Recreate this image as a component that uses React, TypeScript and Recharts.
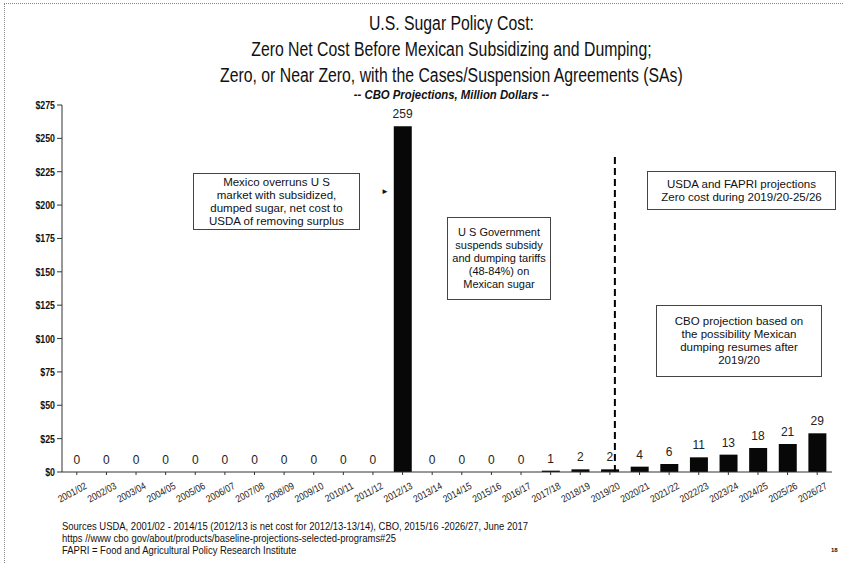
import { Bar, ComposedChart, Line, ReferenceLine, XAxis, YAxis } from "recharts";

const FONT = '"Liberation Sans", Arial, sans-serif';

const years = [
  "2001/02", "2002/03", "2003/04", "2004/05", "2005/06", "2006/07", "2007/08", "2008/09", "2009/10",
  "2010/11", "2011/12", "2012/13", "2013/14", "2014/15", "2015/16", "2016/17", "2017/18", "2018/19",
  "2019/20", "2020/21", "2021/22", "2022/23", "2023/24", "2024/25", "2025/26", "2026/27"
];
const cost = [0, 0, 0, 0, 0, 0, 0, 0, 0, 0, 0, 259, 0, 0, 0, 0, 1, 2, 2, 4, 6, 11, 13, 18, 21, 29];
const yTicks = [0, 25, 50, 75, 100, 125, 150, 175, 200, 225, 250, 275];

const titleLines = [
  "U.S. Sugar Policy Cost:",
  "Zero Net Cost Before Mexican Subsidizing and Dumping;",
  "Zero, or Near Zero, with the Cases/Suspension Agreements (SAs)"
];
const subtitle = "-- CBO Projections, Million Dollars --";
const footer = [
  "Sources  USDA, 2001/02 - 2014/15 (2012/13 is net cost for 2012/13-13/14), CBO, 2015/16 -2026/27, June 2017",
  "https //www cbo gov/about/products/baseline-projections-selected-programs#25",
  "FAPRI = Food and Agricultural Policy Research Institute"
];

const notes = [
  { lines: ["Mexico overruns U S", "market with subsidized,", "dumped sugar, net cost to", "USDA of removing surplus"], left: 193, top: 173, width: 167, height: 57, size: 11.5 },
  { lines: ["U S  Government", "suspends subsidy", "and dumping tariffs", "(48-84%) on", "Mexican sugar"], left: 447, top: 217, width: 104, height: 83, size: 11 },
  { lines: ["USDA and FAPRI projections", "Zero cost during 2019/20-25/26"], left: 647, top: 171, width: 189, height: 39, size: 11.5 },
  { lines: ["CBO projection based on", "the possibility Mexican", "dumping resumes after", "2019/20"], left: 656, top: 305, width: 166, height: 72, size: 11.5 }
];

const data = years.map((year, i) => ({ year, cost: cost[i] }));

const txt = (size: number, weight = 400) => ({
  fontSize: size,
  fontWeight: weight,
  fontFamily: FONT
});

function YearTick({ x, y, payload }: any) {
  return (
    <g transform={`translate(${x + 7},${y + 4}) rotate(-28) scale(0.86,1)`}>
      <text x={0} y={0} dy={8} textAnchor="end" fill="#222" {...txt(10)}>
        {payload.value}
      </text>
    </g>
  );
}

function DollarTick({ x, y, payload }: any) {
  return (
    <g transform={`translate(${x},${y}) scale(0.84,1)`}>
      <text x={0} y={0} dy={4} textAnchor="end" fill="#111" {...txt(10.5, 700)}>
        {`$${payload.value}`}
      </text>
    </g>
  );
}

function ValueLabel({ x, y, value }: any) {
  return (
    <text x={x} y={y - 8} textAnchor="middle" fill="#222" {...txt(12)}>
      {value}
    </text>
  );
}

// dashed divider sits just right of the 2019/20 bar centre, as in the source
function Divider({ x1, y1, x2, y2 }: any) {
  return <line x1={x1 + 5} y1={y1} x2={x2 + 5} y2={y2} stroke="#000" strokeWidth={2} strokeDasharray="7 4" />;
}

export default function App() {
  return (
    <div style={{ position: "absolute", left: 0, top: 0, width: 843, height: 563, background: "#fff", fontFamily: FONT, color: "#111", overflow: "hidden" }}>
      <div style={{ position: "absolute", left: 4, top: 3, right: 0, bottom: 0, borderLeft: "1px dotted #888", borderTop: "1px dotted #888" }} />
      {titleLines.map((t, i) => (
        <div key={t} style={{ position: "absolute", left: 0, width: 903, top: 12 + i * 26, textAlign: "center", fontSize: 19.5, lineHeight: "22px", transform: "scaleX(0.81)", transformOrigin: "451px 0" }}>
          {t}
        </div>
      ))}
      <div style={{ position: "absolute", left: 0, width: 903, top: 87, textAlign: "center", fontSize: 13.5, fontStyle: "italic", fontWeight: 700, lineHeight: "15px", transform: "scaleX(0.84)", transformOrigin: "451px 0" }}>
        {subtitle}
      </div>
      <div style={{ position: "absolute", left: 0, top: 0 }}>
        <ComposedChart width={843} height={563} data={data} margin={{ top: 105, right: 11, left: 0, bottom: 51 }}>
          <XAxis dataKey="year" interval={0} tick={<YearTick />} height={40} stroke="#333" tickSize={3} />
          <YAxis domain={[0, 275]} ticks={yTicks} width={62} stroke="#333" tickSize={5} tick={<DollarTick />} />
          <ReferenceLine segment={[{ x: "2019/20", y: 0 }, { x: "2019/20", y: 237 }]} shape={<Divider />} />
          <Bar dataKey="cost" fill="#080808" barSize={18} isAnimationActive={false} />
          <Line
            dataKey="cost"
            stroke="none"
            dot={false}
            activeDot={false}
            legendType="none"
            label={<ValueLabel />}
            isAnimationActive={false}
          />
        </ComposedChart>
      </div>
      {notes.map((n, i) => (
        <div
          key={i}
          style={{
            position: "absolute",
            left: n.left,
            top: n.top,
            width: n.width,
            height: n.height,
            boxSizing: "border-box",
            border: "1px solid #444",
            background: "#fff",
            display: "flex",
            flexDirection: "column",
            justifyContent: "center",
            alignItems: "center",
            fontSize: n.size,
            lineHeight: "13px",
            textAlign: "center",
            whiteSpace: "nowrap"
          }}
        >
          {n.lines.map((l) => (
            <div key={l}>{l}</div>
          ))}
        </div>
      ))}
      <div style={{ position: "absolute", left: 381, top: 187, fontSize: 8, lineHeight: "10px" }}>►</div>
      {footer.map((t, i) => (
        <div key={t} style={{ position: "absolute", left: 62, top: 520 + i * 12, fontSize: 11, lineHeight: "12px", whiteSpace: "nowrap", transform: "scaleX(0.86)", transformOrigin: "0 0" }}>
          {t}
        </div>
      ))}
      <div style={{ position: "absolute", left: 831, top: 547, fontSize: 6, fontWeight: 700 }}>18</div>
    </div>
  );
}
